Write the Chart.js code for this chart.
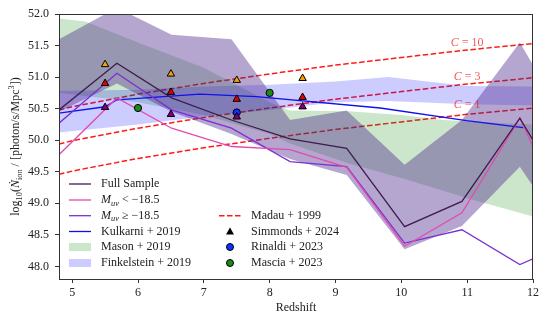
<!DOCTYPE html>
<html>
<head>
<meta charset="utf-8">
<script src="https://cdn.jsdelivr.net/npm/chart.js@4.4.0/dist/chart.umd.min.js"></script>
<style>
  html, body { margin: 0; padding: 0; background: #fff; }
  #wrap { width: 549px; height: 325px; }
</style>
</head>
<body>
<div id="wrap"><canvas id="chart" width="549" height="325"></canvas></div>
<script>
const SERIF = '"Liberation Serif", "DejaVu Serif", serif';

// ticks
const xTicks = [5, 6, 7, 8, 9, 10, 11, 12];
const yTicks = [48.0, 48.5, 49.0, 49.5, 50.0, 50.5, 51.0, 51.5, 52.0];

// this work, binned in redshift
const zBins = [4.8, 5.68, 6.51, 7.42, 8.31, 9.17, 10.05, 10.92, 11.8, 12];
const fullSample = [50.48, 51.22, 50.67, 50.32, 50.02, 49.87, 48.63, 49.03, 50.35, 50.0];
const brightSample = [49.77, 50.67, 50.19, 49.9, 49.85, 49.57, 48.32, 48.85, 50.35, 49.9];
const faintSample = [50.27, 51.06, 50.48, 50.19, 49.66, 49.58, 48.37, 48.58, 48.03, 48.12];
const fullUpper = [51.6, 52.1, 51.67, 51.6, 50.32, 50.47, 49.61, 50.32, 51.55, 51.19];
const fullLower = [50.45, 50.9, 50.45, 50.1, 49.7, 49.45, 48.27, 48.64, 49.58, 49.27];

// literature
const zKulkarni = [4.8, 5.5, 5.68, 6.94, 7.8, 9.68, 10.99, 11.85];
const kulkarni = [50.43, 50.53, 50.64, 50.73, 50.69, 50.51, 50.31, 50.2];

const zMason = [4.8, 5.2, 6, 7, 8, 8.3, 9.2, 10, 10.64, 11, 12];
const masonUpper = [51.93, 51.88, 51.55, 51.15, 50.6, 50.47, 50.46, 50.4, 50.32, 50.3, 50.25];
const masonLower = [50.75, 50.7, 50.6, 50.4, 50.1, 49.95, 49.63, 49.4, 49.2, 49.08, 48.79];

const zFink = [4.8, 6, 7, 8, 9, 9.8, 11, 12];
const finkUpper = [50.78, 50.8, 50.85, 50.88, 50.93, 51.0, 50.86, 50.85];
const finkLower = [50.12, 50.25, 50.38, 50.48, 50.6, 50.62, 50.57, 50.55];

const zMadau = [4.8, 5, 6, 7, 8, 9, 10, 11, 12];
const madauC10 = [50.48, 50.53, 50.73, 50.90, 51.05, 51.19, 51.31, 51.43, 51.53];
const madauC3 = [49.94, 49.99, 50.19, 50.36, 50.51, 50.65, 50.77, 50.89, 50.99];
const madauC1 = [49.46, 49.51, 49.71, 49.88, 50.03, 50.17, 50.29, 50.41, 50.51];

const zSimmonds = [5.5, 6.5, 7.5, 8.5];
const simmondsOrange = [51.2, 51.05, 50.95, 50.98];
const simmondsRed = [50.9, 50.76, 50.65, 50.68];
const simmondsPurple = [50.52, 50.41, 50.37, 50.53];

const zRinaldi = [7.5];
const rinaldi = [50.44];
const zMascia = [6.0, 8.0];
const mascia = [50.51, 50.75];

const madauLabels = [
  { z: 11.0, y: 51.54, text: '10' },
  { z: 11.0, y: 51.0, text: '3' },
  { z: 11.0, y: 50.56, text: '1' }
];

const fullColor = '#3d1c50';
const brightColor = '#e04cb0';
const faintColor = '#7b2fd0';
const kulkColor = '#1010f0';
const madauColor = '#ff1a1a';
const masonFill = 'rgba(0,128,0,0.2)';
const finkFill = 'rgba(0,0,255,0.2)';
const fullFill = 'rgba(70,32,135,0.4)';

const pts = (xs, ys) => xs.map((x, i) => ({ x: x, y: ys[i] }));

function line(label, xs, ys, color, order, extra) {
  return Object.assign({
    label: label, data: pts(xs, ys), borderColor: color, borderWidth: 1.3,
    pointRadius: 0, fill: false, tension: 0, order: order
  }, extra || {});
}

function band(label, xs, up, low, color, order) {
  return [
    { label: label + ' up', data: pts(xs, up), borderColor: 'rgba(0,0,0,0)', borderWidth: 0,
      pointRadius: 0, backgroundColor: color, fill: '+1', tension: 0, order: order },
    { label: label + ' low', data: pts(xs, low), borderColor: 'rgba(0,0,0,0)', borderWidth: 0,
      pointRadius: 0, fill: false, tension: 0, order: order }
  ];
}

function markers(label, xs, ys, style, fillColor, radius) {
  return {
    label: label, data: pts(xs, ys), showLine: false, pointStyle: style,
    pointRadius: radius, pointBackgroundColor: fillColor, pointBorderColor: '#000',
    pointBorderWidth: 1, order: 1
  };
}

// rich text helper for sub/superscripts
function fontFor(p, size) {
  const s = (p.sub || p.sup) ? size * 0.7 : size;
  return (p.it ? 'italic ' : '') + s + 'px ' + SERIF;
}
function richWidth(ctx, parts, size) {
  let w = 0;
  parts.forEach(p => { ctx.font = fontFor(p, size); w += ctx.measureText(p.t).width; });
  return w;
}
function drawRich(ctx, parts, x, y, size, align) {
  let cx = align === 'center' ? x - richWidth(ctx, parts, size) / 2 : x;
  ctx.textBaseline = 'middle';
  ctx.textAlign = 'left';
  parts.forEach(p => {
    ctx.font = fontFor(p, size);
    const dy = p.sub ? size * 0.28 : (p.sup ? -size * 0.35 : 0);
    ctx.fillText(p.t, cx, y + dy);
    cx += ctx.measureText(p.t).width;
  });
}

const legendLeft = [
  { type: 'line', color: fullColor, label: [{ t: 'Full Sample' }] },
  { type: 'line', color: brightColor, label: [{ t: 'M', it: true }, { t: 'uv', it: true, sub: true }, { t: ' < \u221218.5' }] },
  { type: 'line', color: faintColor, label: [{ t: 'M', it: true }, { t: 'uv', it: true, sub: true }, { t: ' \u2265 \u221218.5' }] },
  { type: 'line', color: kulkColor, label: [{ t: 'Kulkarni + 2019' }] },
  { type: 'patch', color: masonFill, label: [{ t: 'Mason + 2019' }] },
  { type: 'patch', color: finkFill, label: [{ t: 'Finkelstein + 2019' }] }
];
const legendRight = [
  { type: 'dash', color: madauColor, label: [{ t: 'Madau + 1999' }] },
  { type: 'tri', color: '#000', label: [{ t: 'Simmonds + 2024' }] },
  { type: 'dot', color: '#1030ff', label: [{ t: 'Rinaldi + 2023' }] },
  { type: 'dot', color: '#1a8a1a', label: [{ t: 'Mascia + 2023' }] }
];

function drawHandle(ctx, item, x0, y) {
  ctx.save();
  if (item.type === 'line' || item.type === 'dash') {
    ctx.strokeStyle = item.color;
    ctx.lineWidth = item.type === 'dash' ? 1.5 : 1.3;
    ctx.setLineDash(item.type === 'dash' ? [5.5, 2.5] : []);
    ctx.beginPath(); ctx.moveTo(x0, y); ctx.lineTo(x0 + 22, y); ctx.stroke();
  } else if (item.type === 'patch') {
    ctx.fillStyle = item.color;
    ctx.fillRect(x0, y - 4, 22, 8);
  } else if (item.type === 'tri') {
    ctx.fillStyle = '#000';
    ctx.beginPath();
    ctx.moveTo(x0 + 11, y - 4); ctx.lineTo(x0 + 15, y + 3); ctx.lineTo(x0 + 7, y + 3);
    ctx.closePath(); ctx.fill();
  } else if (item.type === 'dot') {
    ctx.fillStyle = item.color; ctx.strokeStyle = '#000'; ctx.lineWidth = 1;
    ctx.beginPath(); ctx.arc(x0 + 11, y, 3.5, 0, Math.PI * 2); ctx.fill(); ctx.stroke();
  }
  ctx.restore();
}

const overlay = {
  id: 'overlay',
  afterDraw(chart) {
    const ctx = chart.ctx;
    const a = chart.chartArea;
    const xs = chart.scales.x, ys = chart.scales.y;
    ctx.save();
    // axes box
    ctx.strokeStyle = '#333'; ctx.lineWidth = 1;
    ctx.strokeRect(a.left + 0.5, a.top + 0.5, a.right - a.left - 1, a.bottom - a.top);

    // Madau clumping labels
    ctx.fillStyle = 'rgba(240,30,30,0.75)';
    madauLabels.forEach(l => {
      drawRich(ctx, [{ t: 'C', it: true }, { t: ' = ' + l.text }],
        xs.getPixelForValue(l.z), ys.getPixelForValue(l.y), 12, 'center');
    });

    // legend
    ctx.fillStyle = '#222';
    const rows = [184, 200, 215.7, 231.5, 247, 263];
    legendLeft.forEach((it, i) => {
      drawHandle(ctx, it, 69, rows[i]);
      ctx.fillStyle = '#222';
      drawRich(ctx, it.label, 101, rows[i], 12, 'left');
    });
    legendRight.forEach((it, i) => {
      drawHandle(ctx, it, 219, rows[i + 2]);
      ctx.fillStyle = '#222';
      drawRich(ctx, it.label, 251, rows[i + 2], 12, 'left');
    });

    // y title
    ctx.translate(16, (a.top + a.bottom) / 2);
    ctx.rotate(-Math.PI / 2);
    ctx.fillStyle = '#222';
    drawRich(ctx, [
      { t: 'log' }, { t: '10', sub: true }, { t: '(' }, { t: '\u1E44', it: true }, { t: 'ion', sub: true },
      { t: ' / [photon/s/Mpc' }, { t: '3', sup: true }, { t: '])' }
    ], 0, 0, 12, 'center');
    ctx.restore();
  }
};

const datasets = [].concat(
  [
    line('Madau C=10', zMadau, madauC10, madauColor, 30, { borderWidth: 1.5, borderDash: [5.5, 2.5] }),
    line('Madau C=3', zMadau, madauC3, madauColor, 30, { borderWidth: 1.5, borderDash: [5.5, 2.5] }),
    line('Madau C=1', zMadau, madauC1, madauColor, 30, { borderWidth: 1.5, borderDash: [5.5, 2.5] })
  ],
  band('Mason + 2019', zMason, masonUpper, masonLower, masonFill, 22),
  band('Finkelstein + 2019', zFink, finkUpper, finkLower, finkFill, 21),
  band('Full Sample band', zBins, fullUpper, fullLower, fullFill, 20),
  [
    line('Kulkarni + 2019', zKulkarni, kulkarni, kulkColor, 6),
    line('Muv < -18.5', zBins, brightSample, brightColor, 5),
    line('Muv >= -18.5', zBins, faintSample, faintColor, 5),
    line('Full Sample', zBins, fullSample, fullColor, 4),
    markers('Simmonds orange', zSimmonds, simmondsOrange, 'triangle', '#f5a000', 4.3),
    markers('Simmonds red', zSimmonds, simmondsRed, 'triangle', '#e00000', 4.3),
    markers('Simmonds purple', zSimmonds, simmondsPurple, 'triangle', '#800080', 4.3),
    markers('Rinaldi + 2023', zRinaldi, rinaldi, 'circle', '#1030ff', 3.6),
    markers('Mascia + 2023', zMascia, mascia, 'circle', '#1a8a1a', 3.6)
  ]
);

new Chart(document.getElementById('chart'), {
  type: 'line',
  data: { datasets: datasets },
  options: {
    responsive: false,
    animation: false,
    devicePixelRatio: 1,
    layout: { padding: { top: 14, right: 16, left: 0, bottom: 0 } },
    plugins: {
      legend: { display: false },
      tooltip: { enabled: false }
    },
    scales: {
      x: {
        type: 'linear', min: 4.8, max: 12,
        afterBuildTicks: s => { s.ticks = xTicks.map(v => ({ value: v })); },
        afterFit: s => { s.height = 46; },
        ticks: { font: { family: SERIF, size: 12 }, color: '#222', padding: 3, maxRotation: 0, callback: v => String(v) },
        grid: { drawOnChartArea: false, drawTicks: true, tickLength: 4, color: '#333' },
        border: { color: '#333', width: 1 },
        title: { display: true, text: 'Redshift', font: { family: SERIF, size: 12 }, color: '#222', padding: { top: 0, bottom: 10 } }
      },
      y: {
        type: 'linear', min: 47.8, max: 52,
        afterBuildTicks: s => { s.ticks = yTicks.map(v => ({ value: v })); },
        afterFit: s => { s.width = 59; },
        ticks: { font: { family: SERIF, size: 12 }, color: '#222', padding: 6, callback: v => v.toFixed(1) },
        grid: { drawOnChartArea: false, drawTicks: true, tickLength: 4, color: '#333' },
        border: { color: '#333', width: 1 }
      }
    }
  },
  plugins: [overlay]
});
</script>
</body>
</html>
